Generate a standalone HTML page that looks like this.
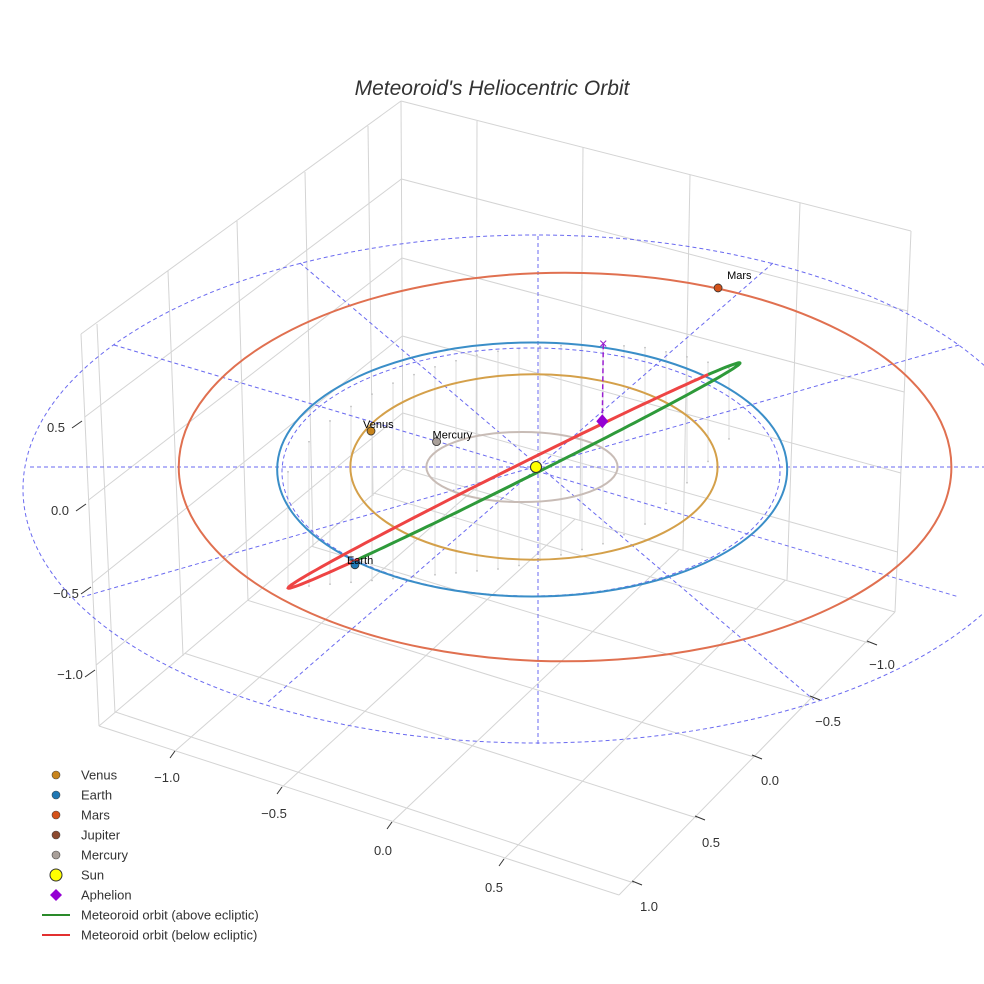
<!DOCTYPE html>
<html><head><meta charset="utf-8"><style>
body{margin:0;background:#fff}
svg{display:block;font-family:"Liberation Sans",sans-serif}
</style></head><body>
<svg id="chart" width="984" height="984" viewBox="0 0 984 984">
<text x="492" y="95" text-anchor="middle" font-size="21" font-style="italic" fill="#333">Meteoroid's Heliocentric Orbit</text>
<g id="box" stroke="#d4d4d4" stroke-width="1" fill="none"></g>
<g id="ticks" font-size="13" fill="#333"></g>
<g id="plot"></g>
<g id="legend" font-size="13" fill="#333"></g>
</svg>
<script>
// ---- data ----
const planetNames = ["Venus","Earth","Mars","Jupiter","Mercury"];
const planetColors = ["#c8841c","#1f77b4","#d4521a","#8c4a2f","#a9a09a"];
const planetX = [-0.647,-0.71,0.714,null,-0.39];
const planetY = [0.283,-0.77,1.41,null,0.2];
const orbitNames = ["Mercury","Venus","Earth","Mars"];
const orbitA = [0.375,0.72,1.0,1.515];
const orbitB = [0.276,0.73,1.0,1.53];
const orbitCX = [-0.055,-0.008,-0.015,0.114];
const orbitCY = [0,0,-0.02,0];
const orbitColors = ["#c8bcb6","#d4a04a","#3a8ec8","#e07050"];
const meteorCenter = [-0.086,-0.067];
const meteorMajor = [0.886,0.886];
const meteorMinor = [0.012,-0.055];
const meteorRedRange = [2.34,5.76];
const aphelion = [0.26,0.36];
const zTicks = [0.5,0.0,-0.5,-1.0];
const xTicks = [-1.0,-0.5,0.0,0.5];
const yTicks = [-1.0,-0.5,0.0,0.5,1.0];

// ---- projection ----
const OX=536, OY=467;
function sx(x){return OX+255*x;}
function sy(y){return OY-127*y;}
const NS="http://www.w3.org/2000/svg";
function el(tag,attrs,parent){const e=document.createElementNS(NS,tag);for(const k in attrs)e.setAttribute(k,attrs[k]);parent.appendChild(e);return e;}
const plot=document.getElementById('plot'), box=document.getElementById('box'), ticks=document.getElementById('ticks'), legend=document.getElementById('legend');
function L(x1,y1,x2,y2,name){const e=el('line',{x1:x1,y1:y1,x2:x2,y2:y2},box);

}
function lerp(a,b,f){return [a[0]+(b[0]-a[0])*f,a[1]+(b[1]-a[1])*f];}

// box corners
const TL=[81,334], TB=[401,101], TR=[911,231];
const FL=[99,726], FB=[403,469], FR=[895,612], FF=[619,895];
L(TL[0],TL[1],TB[0],TB[1],'box-edge');L(TB[0],TB[1],TR[0],TR[1],'box-edge');
L(TB[0],TB[1],FB[0],FB[1],'box-edge');L(TL[0],TL[1],FL[0],FL[1],'box-edge');L(TR[0],TR[1],FR[0],FR[1],'box-edge');
L(FL[0],FL[1],FB[0],FB[1],'box-edge');L(FB[0],FB[1],FR[0],FR[1],'box-edge');
L(FL[0],FL[1],FF[0],FF[1],'box-edge');L(FF[0],FF[1],FR[0],FR[1],'box-edge');
L(97,324,115,713,'box-edge');
// z grid on walls
[[179,417,311],[258,500,392],[336,583,473],[413,665,552]].forEach(z=>{
const bx=401+(z[0]-101)/368*2, lx=81+(z[1]-334)/392*18, rx=911-(z[2]-231)/380*16;
L(lx,z[1],bx,z[0],'z-grid-line');L(bx,z[0],rx,z[2],'z-grid-line');});
// wall verticals
[[168,271,183,656],[237,221,248,601],[305,172,313,547],[368,126,373,496]].forEach(v=>L(v[0],v[1],v[2],v[3],'wall-grid-line'));
[[477,121,476,491],[583,147,580,520],[690,175,683,550],[800,203,787,580]].forEach(v=>L(v[0],v[1],v[2],v[3],'wall-grid-line'));
// floor grid
const xTk=[[174,752],[281,788],[391,823],[503,860]];
xTk.forEach(p=>{const f=(p[0]-FL[0])/(FF[0]-FL[0]);const q=lerp(FB,FR,f);L(p[0],p[1],q[0],q[1],'floor-grid-line');});
const yTk=[[869,643],[812,698],[754,757],[697,818],[634,883]];
yTk.forEach(p=>{const f=(p[0]-FF[0])/(FR[0]-FF[0]);const q=lerp(FL,FB,f);L(p[0],p[1],q[0],q[1],'floor-grid-line');});

// ticks
const zPos=[[56,432],[60,515],[66,598],[70,679]];
const zTk=[[82,420],[86,503],[91,586],[95,669]];
zTicks.forEach((v,i)=>{const t=el('text',{x:zPos[i][0],y:zPos[i][1],'text-anchor':'middle'},ticks);t.textContent=(v<0?'\u2212':'')+Math.abs(v).toFixed(1);

el('line',{x1:zTk[i][0]-10,y1:zTk[i][1]+8,x2:zTk[i][0],y2:zTk[i][1]+1,stroke:'#333'},ticks);});
const xPos=[[167,782],[274,818],[383,855],[494,892]];
xTicks.forEach((v,i)=>{const t=el('text',{x:xPos[i][0],y:xPos[i][1],'text-anchor':'middle'},ticks);t.textContent=(v<0?'\u2212':'')+Math.abs(v).toFixed(1);

el('line',{x1:xTk[i][0]-4,y1:xTk[i][1]+6,x2:xTk[i][0]+1,y2:xTk[i][1]-1,stroke:'#333'},ticks);});
const yPos=[[882,669],[828,726],[770,785],[711,847],[649,911]];
yTicks.forEach((v,i)=>{const t=el('text',{x:yPos[i][0],y:yPos[i][1],'text-anchor':'middle'},ticks);t.textContent=(v<0?'\u2212':'')+Math.abs(v).toFixed(1);

el('line',{x1:yTk[i][0]-2,y1:yTk[i][1]-2,x2:yTk[i][0]+8,y2:yTk[i][1]+2,stroke:'#333'},ticks);});

// gray drop lines (decorative)
const dropTopAnchors=[[286,475],[303,448],[327,423],[359,401],[397,381],[440,365],[485,353],[530,347],[600,344],[650,348],[700,360],[742,372]];
const dropBotAnchors=[[286,588],[400,578],[509,568],[600,545],[642,527],[700,470],[742,425]];
function interp(a,x){for(let i=0;i<a.length-1;i++){if(x<=a[i+1][0]){const f=(x-a[i][0])/(a[i+1][0]-a[i][0]);return a[i][1]+(a[i+1][1]-a[i][1])*f;}}return a[a.length-1][1];}
for(let x=288;x<=740;x+=21){const top=interp(dropTopAnchors,x), bot=interp(dropBotAnchors,x);
const e=el('line',{x1:x,y1:top,x2:x,y2:bot,stroke:'#dcdcdc','stroke-width':1},plot);

el('circle',{cx:x,cy:bot,r:0.9,fill:'#c0c0c0'},plot);el('circle',{cx:x,cy:top,r:0.9,fill:'#c0c0c0'},plot);}

// reference dashed lines
const dash={stroke:'#6a6af0','stroke-width':1,'stroke-dasharray':'4,3',fill:'none'};
let e=el('ellipse',Object.assign({cx:536,cy:489,rx:513,ry:254},dash),plot);
e=el('ellipse',Object.assign({cx:531,cy:472,rx:249,ry:124},dash),plot);
[[30,467,984,467],[538,236,538,744],[114,345,959,597],[959,345,82,597],[300,263,814,700],[773,263,268,702]].forEach(l=>{
const d=el('line',Object.assign({x1:l[0],y1:l[1],x2:l[2],y2:l[3]},dash),plot);
});

// planet orbits
orbitNames.forEach((n,i)=>{const o=el('ellipse',{cx:sx(orbitCX[i]),cy:sy(orbitCY[i]),rx:255*orbitA[i],ry:127*orbitB[i],fill:'none',stroke:orbitColors[i],'stroke-width':2},plot);
});

// meteoroid orbit
function mpt(t){return [sx(meteorCenter[0]+meteorMajor[0]*Math.cos(t)+meteorMinor[0]*Math.sin(t)),
 sy(meteorCenter[1]+meteorMajor[1]*Math.cos(t)+meteorMinor[1]*Math.sin(t))];}
function seg(t0,t1){let d='';const n=80;for(let k=0;k<=n;k++){const p=mpt(t0+(t1-t0)*k/n);d+=(k?'L':'M')+p[0].toFixed(1)+','+p[1].toFixed(1);}return d;}
e=el('path',{d:seg(meteorRedRange[1],meteorRedRange[0]+2*Math.PI),fill:'none',stroke:'#2e9a3a','stroke-width':3},plot);

e=el('path',{d:seg(meteorRedRange[0],meteorRedRange[1]),fill:'none',stroke:'#ee4444','stroke-width':3},plot);


// aphelion
const ax=sx(aphelion[0]), ay=sy(aphelion[1]);
e=el('line',{x1:ax,y1:ay,x2:ax+1,y2:ay-78,stroke:'#9a1fd0','stroke-width':1.5,'stroke-dasharray':'5,3'},plot);

e=el('text',{x:ax+1,y:ay-73,'text-anchor':'middle','font-size':15,fill:'#9a1fd0'},plot);e.textContent='\u00d7';

e=el('path',{d:`M${ax},${ay-7}L${ax+6},${ay}L${ax},${ay+7}L${ax-6},${ay}Z`,fill:'#9400d3'},plot);


// sun
e=el('circle',{cx:OX,cy:OY,r:5.5,fill:'#ffff00',stroke:'#333','stroke-width':1},plot);


// planets
const lblDx=[-8,-8,9,0,-4], lblDy=[-3,-1,-9,0,-3];
planetNames.forEach((n,i)=>{if(planetX[i]===null)return;const x=sx(planetX[i]),y=sy(planetY[i]);
const c=el('circle',{cx:x,cy:y,r:4,fill:planetColors[i],stroke:'#333','stroke-width':0.8},plot);

const t=el('text',{x:x+lblDx[i],y:y+lblDy[i],'font-size':11,fill:'#000'},plot);t.textContent=n;
});

// legend
const legLabels=["Venus","Earth","Mars","Jupiter","Mercury","Sun","Aphelion","Meteoroid orbit (above ecliptic)","Meteoroid orbit (below ecliptic)"];
legLabels.forEach((lab,i)=>{const y=775+i*20;
let m;
if(i<5){m=el('circle',{cx:56,cy:y,r:4,fill:planetColors[i],stroke:'#444','stroke-width':0.6},legend);}
else if(i===5){m=el('circle',{cx:56,cy:y,r:6,fill:'#ffff00',stroke:'#333','stroke-width':1},legend);}
else if(i===6){m=el('path',{d:`M56,${y-6}L62,${y}L56,${y+6}L50,${y}Z`,fill:'#9400d3'},legend);}
else{m=el('line',{x1:42,y1:y,x2:70,y2:y,stroke:i===7?'#2a8a2a':'#e23030','stroke-width':2},legend);}

const t=el('text',{x:81,y:y+4.5},legend);t.textContent=lab;
});
</script>
</body></html>
